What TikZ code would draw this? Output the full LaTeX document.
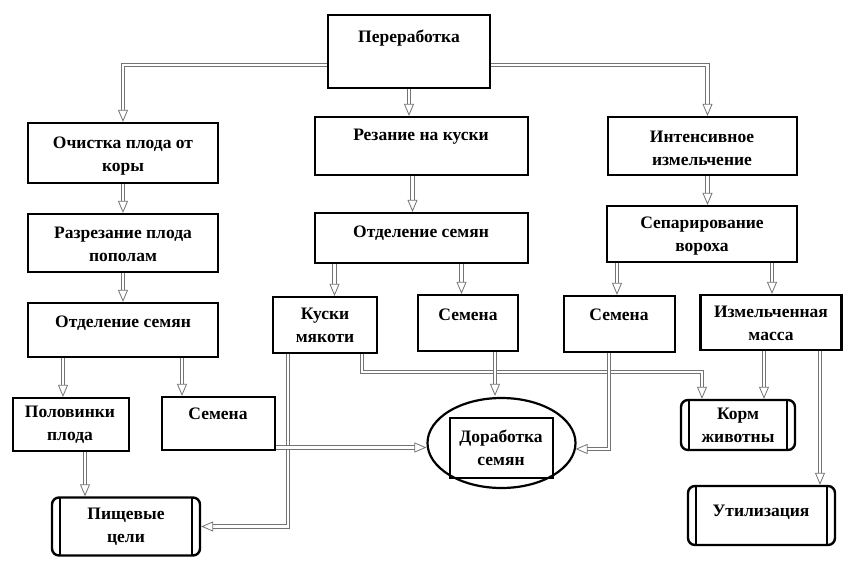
\documentclass[tikz,border=0pt]{standalone}
\usepackage{fontspec}
\setmainfont{Liberation Serif}
\usetikzlibrary{arrows.meta,shapes.geometric,calc}
\tikzset{
  box/.style={draw=black, line width=2.2pt, rectangle, inner sep=0pt},
  term/.style={draw=black, line width=2.4pt, rectangle, rounded corners=7pt, inner sep=0pt,
    path picture={
      \draw[line width=1.6pt] ([xshift=8pt]path picture bounding box.north west) -- ([xshift=8pt]path picture bounding box.south west);
      \draw[line width=1.6pt] ([xshift=-8pt]path picture bounding box.north east) -- ([xshift=-8pt]path picture bounding box.south east);
    }},
  txt/.style={font=\fontsize{17.5}{23}\selectfont\bfseries, align=center, inner sep=0pt},
  arr/.style={draw=black!55, double=white, double distance=2.6pt, line width=0.8pt,
    -{Triangle[open, length=12pt, width=10pt, line width=0.8pt]}}
}
\begin{document}
\begin{tikzpicture}[x=1pt, y=-1pt]
\useasboundingbox (0,0) rectangle (844,567);
% boxes
\node[box, minimum width=162pt, minimum height=73pt] (per) at (409,51.5) {};
\node[box, minimum width=190pt, minimum height=60pt] (och) at (123,153) {};
\node[box, minimum width=213pt, minimum height=58pt] (rez) at (421.5,146) {};
\node[box, minimum width=189pt, minimum height=58pt] (int) at (702.5,146) {};
\node[box, minimum width=190pt, minimum height=58pt] (raz) at (123,243) {};
\node[box, minimum width=190pt, minimum height=54pt] (otl) at (123,330) {};
\node[box, minimum width=213pt, minimum height=50pt] (otm) at (421.5,238) {};
\node[box, minimum width=190pt, minimum height=56pt] (sep) at (702,234) {};
\node[box, minimum width=104pt, minimum height=56pt] (kus) at (325,325) {};
\node[box, minimum width=100pt, minimum height=56pt] (semm) at (468,323) {};
\node[box, minimum width=111pt, minimum height=56pt] (semr) at (619.5,324) {};
\node[box, minimum width=141pt, minimum height=55pt] (izm) at (771,322.5) {};
\node[box, minimum width=116pt, minimum height=53pt] (pol) at (71,424.5) {};
\node[box, minimum width=113pt, minimum height=53pt] (seml) at (218.5,423.5) {};
\node[term, minimum width=148pt, minimum height=58pt] (pish) at (126,526.5) {};
\node[term, minimum width=114pt, minimum height=50pt] (korm) at (738,425) {};
\node[term, minimum width=147pt, minimum height=59pt] (util) at (761.5,515.5) {};
\node[draw=black, line width=2.2pt, ellipse, minimum width=148pt, minimum height=90pt, inner sep=0pt] (dor) at (501.5,443) {};
\node[box, minimum width=103pt, minimum height=60pt] (dorb) at (501.5,448) {};
% texts
\node[txt] (tper) at (409,38) {Переработка};
\node[txt] (toch) at (123,156) {Очистка плода от\\коры};
\node[txt] (trez) at (421,137) {Резание на куски};
\node[txt] (tint) at (702,148) {Интенсивное\\измельчение};
\node[txt] (traz) at (123,244) {Разрезание плода\\пополам};
\node[txt] (totl) at (123,323) {Отделение семян};
\node[txt] (totm) at (421,233) {Отделение семян};
\node[txt] (tsep) at (702,236) {Сепарирование\\вороха};
\node[txt] (tkus) at (325,325) {Куски\\мякоти};
\node[txt] (tsemm) at (468,315) {Семена};
\node[txt] (tsemr) at (619,315) {Семена};
\node[txt] (tizm) at (771,323) {Измельченная\\масса};
\node[txt] (tpol) at (70,425) {Половинки\\плода};
\node[txt] (tseml) at (218,414) {Семена};
\node[txt] (tpish) at (126,527) {Пищевые\\цели};
\node[txt] (tdor) at (501,448) {Доработка\\семян};
\node[txt] (tkorm) at (738,425) {Корм\\животны};
\node[txt] (tutil) at (761,512) {Утилизация};
% connectors
\draw[arr] ([yshift=-13.5pt]per.west) -| (och.north);
\draw[arr] ([yshift=-13.5pt]per.east) -| ([xshift=5pt]int.north);
\draw[arr] (per.south) -- (per.south |- rez.north);
\draw[arr] ([xshift=-9pt]rez.south) -- ([xshift=-9pt]rez.south |- otm.north);
\draw[arr] ([xshift=5pt]int.south) -- ([xshift=5pt]int.south |- sep.north);
\draw[arr] (och.south) -- (raz.north);
\draw[arr] (raz.south) -- (otl.north);
\draw[arr] ([xshift=-60pt]otl.south) -- ([xshift=-60pt]otl.south |- pol.north);
\draw[arr] ([xshift=59pt]otl.south) -- ([xshift=59pt]otl.south |- seml.north);
\draw[arr] ([xshift=14pt]pol.south) -- ([xshift=14pt]pol.south |- pish.north);
\draw[arr] ([xshift=-87pt]otm.south) -- ([xshift=-87pt]otm.south |- kus.north);
\draw[arr] ([xshift=40pt]otm.south) -- ([xshift=40pt]otm.south |- semm.north);
\draw[arr] ([xshift=-85pt]sep.south) -- ([xshift=-85pt]sep.south |- semr.north);
\draw[arr] ([xshift=70pt]sep.south) -- ([xshift=70pt]sep.south |- izm.north);
\draw[arr] ([xshift=-7pt]izm.south) -- ([xshift=-7pt]izm.south |- korm.north);
\draw[arr] ([xshift=49pt]izm.south) -- ([xshift=49pt]izm.south |- util.north);
\draw[arr] ([xshift=-37pt]kus.south) |- (pish.east);
\draw[arr] ([xshift=37pt]kus.south) |- ([xshift=-36pt,yshift=-18pt]korm.north |- kus.south) -- ([xshift=-36pt]korm.north);
\draw[arr] ([xshift=27pt]semm.south) -- ($(dor.north)+(-6.5pt,1pt)$);
\draw[arr] ([xshift=-10.5pt]semr.south) |- ($(dor.east)+(-1pt,-6pt)$);
\draw[arr] ([yshift=-24pt]seml.east) -- ([yshift=-24pt]seml.east -| dor.west);
\end{tikzpicture}
\end{document}
